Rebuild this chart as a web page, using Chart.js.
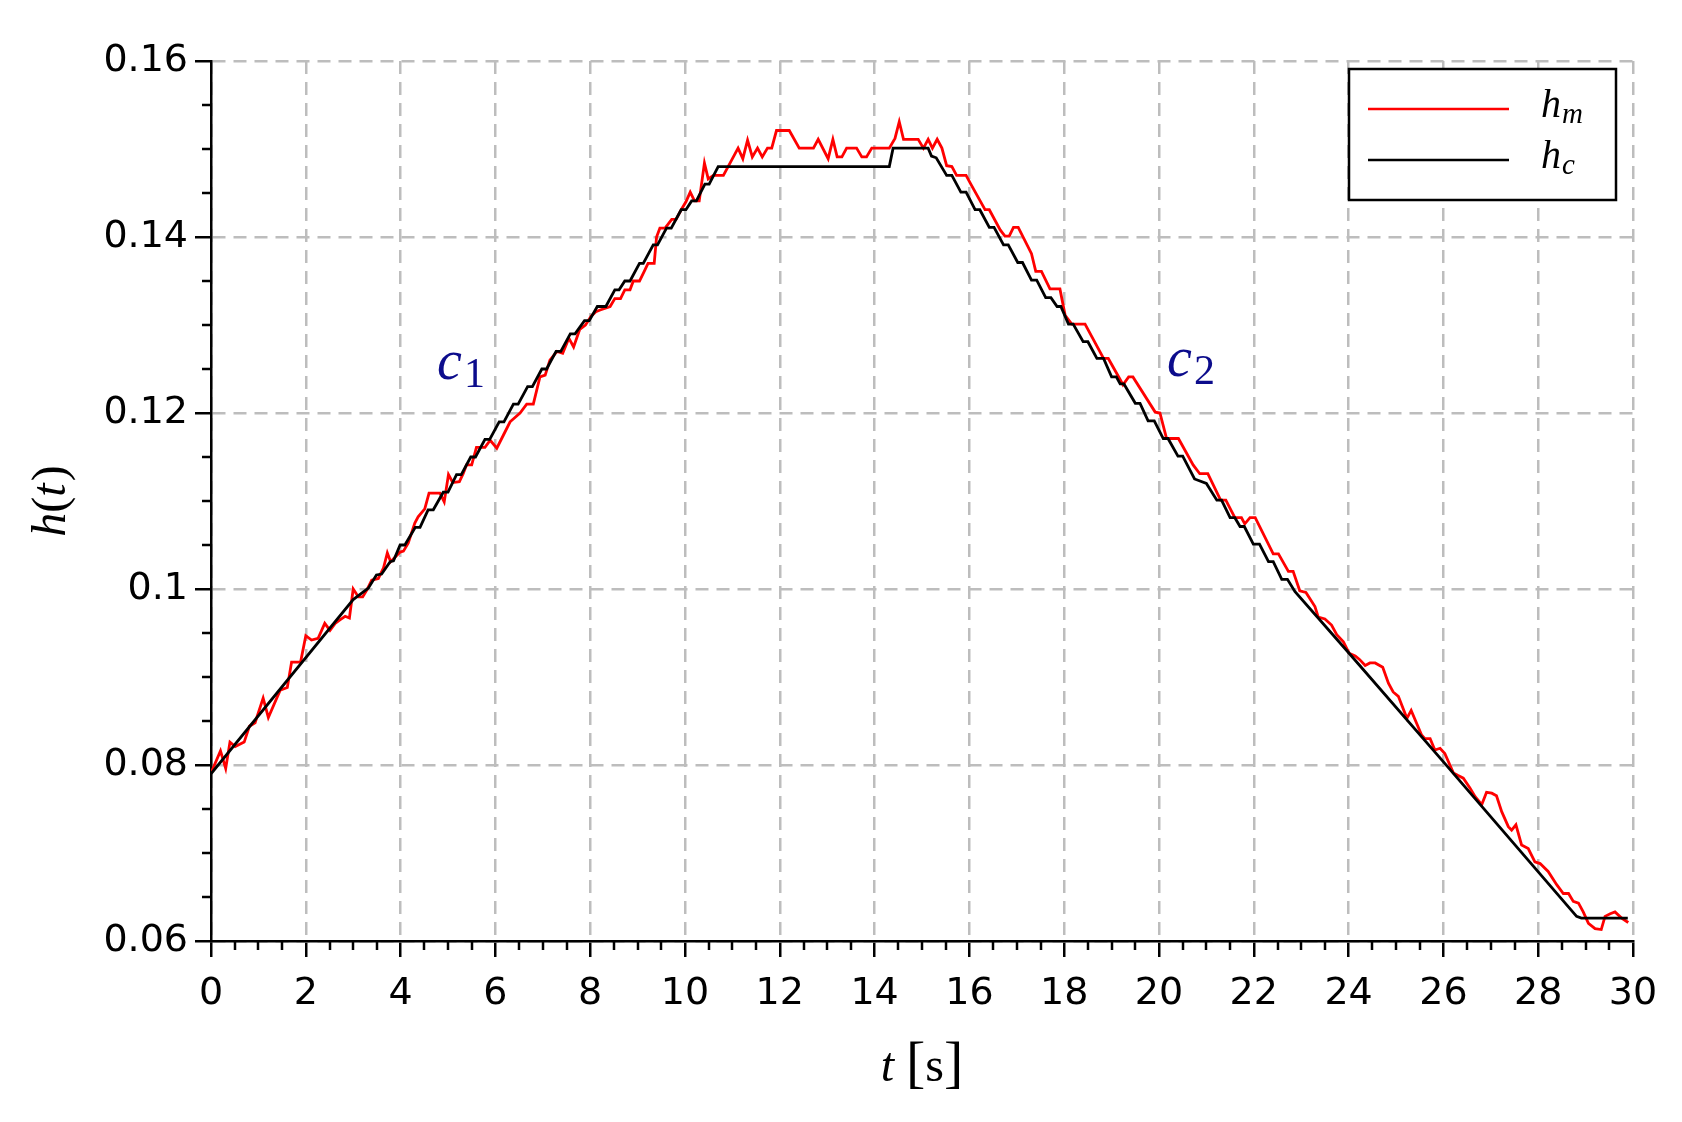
<!DOCTYPE html>
<html>
<head>
<meta charset="utf-8">
<title>h(t)</title>
<script src="https://cdn.jsdelivr.net/npm/chart.js@4.4.0/dist/chart.umd.min.js"></script>
<style>
  html, body { margin: 0; padding: 0; background: #fff; }
  canvas { display: block; }
</style>
</head>
<body>
<canvas id="myChart" width="1682" height="1122"></canvas>
<script>
// axis ticks
const xTicks = [0, 2, 4, 6, 8, 10, 12, 14, 16, 18, 20, 22, 24, 26, 28, 30];
const xTickLabels = ["0", "2", "4", "6", "8", "10", "12", "14", "16", "18", "20", "22", "24", "26", "28", "30"];
const yTicks = [0.06, 0.08, 0.1, 0.12, 0.14, 0.16];
const yTickLabels = ["0.06", "0.08", "0.1", "0.12", "0.14", "0.16"];

// legend names (main symbol + subscript)
const legendMain = ["h", "h"];
const legendSub = ["m", "c"];

// curve labels c1, c2 (placed in data coords)
const curveLabelT = [4.77, 20.17];
const curveLabelH = [0.1239, 0.1242];
const curveLabelSub = ["1", "2"];

// measured height h_m : [t, h]
const measured = [
  [0.00,0.0791],[0.20,0.0816],[0.31,0.0796],[0.40,0.0826],[0.51,0.0821],[0.70,0.0826],[0.81,0.0844],[0.93,0.0848],
  [1.10,0.0876],[1.21,0.0854],[1.46,0.0885],[1.61,0.0888],[1.70,0.0917],[1.89,0.0917],[2.00,0.0947],[2.12,0.0942],
  [2.26,0.0944],[2.40,0.0961],[2.51,0.0953],[2.62,0.0961],[2.72,0.0965],[2.83,0.0969],[2.92,0.0967],[3.00,0.1000],
  [3.11,0.0991],[3.20,0.0991],[3.29,0.0999],[3.39,0.1010],[3.53,0.1012],[3.64,0.1024],[3.72,0.1041],[3.79,0.1031],
  [3.99,0.1042],[4.06,0.1043],[4.16,0.1052],[4.30,0.1075],[4.37,0.1082],[4.51,0.1091],[4.60,0.1109],[4.83,0.1109],
  [4.92,0.1099],[5.01,0.1130],[5.10,0.1121],[5.24,0.1122],[5.32,0.1131],[5.39,0.1141],[5.50,0.1141],[5.60,0.1161],
  [5.78,0.1161],[5.89,0.1169],[6.03,0.1160],[6.17,0.1175],[6.31,0.1190],[6.52,0.1200],[6.66,0.1210],[6.80,0.1210],
  [6.94,0.1241],[7.05,0.1243],[7.15,0.1260],[7.30,0.1270],[7.42,0.1268],[7.55,0.1285],[7.65,0.1275],[7.78,0.1295],
  [7.90,0.1300],[8.02,0.1310],[8.12,0.1315],[8.21,0.1317],[8.42,0.1321],[8.52,0.1330],[8.64,0.1330],[8.73,0.1340],
  [8.84,0.1340],[8.91,0.1350],[9.04,0.1350],[9.14,0.1361],[9.22,0.1370],[9.35,0.1370],[9.40,0.1400],[9.47,0.1410],
  [9.58,0.1410],[9.72,0.1420],[9.81,0.1420],[9.92,0.1431],[10.02,0.1440],[10.11,0.1451],[10.20,0.1441],[10.30,0.1441],
  [10.41,0.1484],[10.49,0.1466],[10.60,0.1470],[10.81,0.1470],[10.91,0.1480],[11.12,0.1501],[11.22,0.1489],[11.32,0.1510],
  [11.42,0.1491],[11.53,0.1501],[11.63,0.1491],[11.74,0.1501],[11.83,0.1501],[11.93,0.1521],[12.20,0.1521],[12.41,0.1501],
  [12.71,0.1501],[12.81,0.1511],[13.02,0.1489],[13.12,0.1511],[13.21,0.1491],[13.31,0.1491],[13.41,0.1501],[13.62,0.1501],
  [13.73,0.1491],[13.83,0.1491],[13.94,0.1501],[14.31,0.1501],[14.43,0.1512],[14.52,0.1531],[14.61,0.1511],[14.92,0.1511],
  [15.03,0.1501],[15.13,0.1511],[15.22,0.1501],[15.32,0.1511],[15.42,0.1501],[15.52,0.1481],[15.63,0.1480],[15.73,0.1470],
  [15.93,0.1470],[16.03,0.1460],[16.33,0.1431],[16.42,0.1431],[16.65,0.1408],[16.75,0.1401],[16.84,0.1401],[16.93,0.1411],
  [17.03,0.1411],[17.31,0.1381],[17.40,0.1361],[17.52,0.1361],[17.70,0.1341],[17.91,0.1341],[18.02,0.1311],[18.16,0.1301],
  [18.44,0.1301],[18.83,0.1262],[18.93,0.1262],[19.18,0.1238],[19.24,0.1232],[19.36,0.1241],[19.45,0.1241],[19.92,0.1201],
  [20.02,0.1200],[20.16,0.1171],[20.41,0.1171],[20.72,0.1141],[20.86,0.1131],[21.03,0.1131],[21.30,0.1101],[21.41,0.1101],
  [21.60,0.1081],[21.74,0.1081],[21.81,0.1074],[21.92,0.1081],[22.03,0.1081],[22.41,0.1040],[22.52,0.1040],[22.73,0.1020],
  [22.83,0.1020],[22.97,0.0998],[23.10,0.0996],[23.29,0.0980],[23.36,0.0968],[23.50,0.0966],[23.64,0.0959],[23.75,0.0948],
  [23.89,0.0940],[24.01,0.0927],[24.14,0.0924],[24.23,0.0920],[24.35,0.0913],[24.45,0.0916],[24.56,0.0916],[24.72,0.0911],
  [24.84,0.0893],[24.94,0.0883],[25.05,0.0878],[25.23,0.0853],[25.32,0.0862],[25.54,0.0834],[25.61,0.0830],[25.72,0.0830],
  [25.82,0.0817],[25.93,0.0819],[26.03,0.0813],[26.21,0.0791],[26.31,0.0788],[26.42,0.0785],[26.56,0.0774],[26.67,0.0764],
  [26.81,0.0755],[26.91,0.0769],[27.02,0.0768],[27.12,0.0765],[27.23,0.0747],[27.37,0.0730],[27.44,0.0726],[27.53,0.0732],
  [27.65,0.0709],[27.79,0.0705],[27.93,0.0690],[28.04,0.0688],[28.21,0.0679],[28.39,0.0664],[28.53,0.0654],[28.64,0.0654],
  [28.74,0.0645],[28.85,0.0643],[28.95,0.0633],[29.06,0.0620],[29.20,0.0614],[29.33,0.0613],[29.41,0.0628],[29.52,0.0631],
  [29.62,0.0633],[29.76,0.0626],[29.90,0.0621]
];

// commanded height h_c : [t, h]
const command = [
  [0.00,0.0790],[3.00,0.0988],[3.32,0.1001],[3.49,0.1016],[3.60,0.1017],[3.78,0.1031],[3.85,0.1032],[3.99,0.1050],
  [4.09,0.1050],[4.31,0.1070],[4.41,0.1070],[4.58,0.1090],[4.69,0.1090],[4.90,0.1110],[5.00,0.1110],[5.18,0.1130],
  [5.28,0.1130],[5.48,0.1150],[5.58,0.1150],[5.78,0.1170],[5.88,0.1170],[6.08,0.1190],[6.18,0.1190],[6.38,0.1210],
  [6.48,0.1210],[6.68,0.1230],[6.78,0.1230],[6.98,0.1250],[7.08,0.1250],[7.28,0.1270],[7.38,0.1270],[7.58,0.1290],
  [7.68,0.1290],[7.88,0.1305],[7.98,0.1305],[8.15,0.1321],[8.33,0.1321],[8.52,0.1340],[8.61,0.1340],[8.73,0.1350],
  [8.84,0.1350],[9.04,0.1370],[9.12,0.1370],[9.33,0.1391],[9.42,0.1391],[9.61,0.1410],[9.71,0.1410],[9.92,0.1431],
  [10.02,0.1431],[10.14,0.1441],[10.24,0.1441],[10.42,0.1460],[10.51,0.1460],[10.70,0.1480],[14.31,0.1480],[14.39,0.1501],
  [15.13,0.1501],[15.20,0.1492],[15.30,0.1490],[15.52,0.1470],[15.63,0.1470],[15.82,0.1451],[15.93,0.1451],[16.12,0.1431],
  [16.22,0.1431],[16.42,0.1411],[16.52,0.1411],[16.72,0.1391],[16.82,0.1391],[17.02,0.1371],[17.12,0.1371],[17.31,0.1351],
  [17.42,0.1351],[17.61,0.1331],[17.72,0.1331],[17.85,0.1321],[17.93,0.1321],[18.09,0.1301],[18.19,0.1301],[18.40,0.1281],
  [18.50,0.1281],[18.69,0.1262],[18.83,0.1262],[19.00,0.1241],[19.10,0.1241],[19.18,0.1233],[19.26,0.1233],[19.50,0.1211],
  [19.60,0.1211],[19.77,0.1191],[19.90,0.1191],[20.09,0.1171],[20.19,0.1171],[20.40,0.1151],[20.50,0.1151],[20.75,0.1125],
  [21.00,0.1120],[21.22,0.1101],[21.32,0.1101],[21.50,0.1081],[21.60,0.1081],[21.71,0.1071],[21.80,0.1071],[21.99,0.1051],
  [22.12,0.1051],[22.31,0.1031],[22.41,0.1031],[22.59,0.1011],[22.71,0.1011],[22.87,0.0997],[24.01,0.0927],[26.01,0.0803],
  [28.81,0.0628],[28.91,0.0626],[29.89,0.0626]
];

const serif = '"Liberation Serif", "DejaVu Serif", serif';
const sans = '"DejaVu Sans", sans-serif';

// minor ticks: 3 between each pair of major ticks
function minorsOf(ticks) {
  var out = [];
  for (var i = 0; i < ticks.length - 1; i++) {
    var step = (ticks[i + 1] - ticks[i]) / 4;
    for (var k = 1; k < 4; k++) out.push(ticks[i] + k * step);
  }
  return out;
}
const xMinor = minorsOf(xTicks);
const yMinor = minorsOf(yTicks);

// draw text pieces with different fonts one after another
function drawParts(c, parts, x, y, align) {
  var total = 0;
  parts.forEach(function (p) { c.font = p[1]; total += c.measureText(p[0]).width + (p[3] || 0); });
  var cx = align === "center" ? x - total / 2 : x;
  parts.forEach(function (p) {
    c.font = p[1];
    c.fillText(p[0], cx, y + (p[2] || 0));
    cx += c.measureText(p[0]).width + (p[3] || 0);
  });
}

const decorations = {
  id: "decorations",
  afterDraw(chart) {
    const c = chart.ctx;
    const area = chart.chartArea;
    const xs = chart.scales.x;
    const ys = chart.scales.y;
    c.save();

    // minor ticks
    c.strokeStyle = "#000";
    c.lineWidth = 2.5;
    c.beginPath();
    xMinor.forEach(function (v) {
      var px = Math.round(xs.getPixelForValue(v));
      c.moveTo(px, area.bottom);
      c.lineTo(px, area.bottom + 9);
    });
    yMinor.forEach(function (v) {
      var py = Math.round(ys.getPixelForValue(v));
      c.moveTo(area.left, py);
      c.lineTo(area.left - 9, py);
    });
    c.stroke();

    c.textAlign = "left";
    c.textBaseline = "alphabetic";
    c.fillStyle = "#000";

    // y axis title h(t)
    c.save();
    c.translate(area.left - 146, (area.top + area.bottom) / 2);
    c.rotate(-Math.PI / 2);
    drawParts(c, [
      ["h", "italic 48px " + serif],
      ["(", "48px " + serif],
      ["t", "italic 48px " + serif, 0, 2],
      [")", "48px " + serif]
    ], 0, 0, "center");
    c.restore();

    // x axis title t [s]
    drawParts(c, [
      ["t", "italic 48px " + serif, 0, 12],
      ["[", "58px " + serif],
      ["s", "48px " + serif],
      ["]", "58px " + serif]
    ], (area.left + area.right) / 2, area.bottom + 140, "center");

    // curve labels c1, c2
    c.fillStyle = "#0c0c8c";
    curveLabelT.forEach(function (t, i) {
      var px = xs.getPixelForValue(t);
      var py = ys.getPixelForValue(curveLabelH[i]);
      drawParts(c, [
        ["c", "italic 56px " + serif, 0, 2],
        [curveLabelSub[i], "42px " + serif, 8]
      ], px, py, "left");
    });

    // legend box
    var bx = area.right - 284, by = area.top + 8, bw = 267, bh = 131;
    c.fillStyle = "#fff";
    c.fillRect(bx, by, bw, bh);
    c.strokeStyle = "#000";
    c.lineWidth = 2.5;
    c.strokeRect(bx, by, bw, bh);
    var colors = ["#ff0000", "#000000"];
    var rows = [40, 91];
    var textRows = [48, 99];
    c.lineWidth = 2.5;
    legendMain.forEach(function (m, i) {
      c.strokeStyle = colors[i];
      c.beginPath();
      c.moveTo(bx + 19, by + rows[i]);
      c.lineTo(bx + 160, by + rows[i]);
      c.stroke();
      c.fillStyle = "#000";
      drawParts(c, [
        [m, "italic 40px " + serif, 0, 1],
        [legendSub[i], "italic 29px " + serif, 6]
      ], bx + 192, by + textRows[i], "left");
    });

    c.restore();
  }
};

const canvas = document.getElementById("myChart");
const ctx = canvas.getContext("2d");

new Chart(ctx, {
  type: "line",
  data: {
    datasets: [
      {
        label: "h_m",
        data: measured.map(function (p) { return { x: p[0], y: p[1] }; }),
        borderColor: "#ff0000",
        borderWidth: 2.8,
        pointRadius: 0,
        tension: 0,
        fill: false,
        order: 1
      },
      {
        label: "h_c",
        data: command.map(function (p) { return { x: p[0], y: p[1] }; }),
        borderColor: "#000000",
        borderWidth: 2.8,
        pointRadius: 0,
        tension: 0,
        fill: false,
        order: 0
      }
    ]
  },
  options: {
    responsive: false,
    animation: false,
    devicePixelRatio: 1,
    layout: { padding: { left: 0, top: 61, right: 49, bottom: 0 } },
    plugins: {
      legend: { display: false },
      tooltip: { enabled: false }
    },
    scales: {
      x: {
        type: "linear",
        min: 0,
        max: 30,
        afterBuildTicks: function (s) { s.ticks = xTicks.map(function (v) { return { value: v }; }); },
        afterFit: function (s) { s.height = 181; },
        ticks: {
          callback: function (v, i) { return xTickLabels[i]; },
          color: "#000",
          font: { family: sans, size: 38 },
          padding: 14,
          maxRotation: 0,
          autoSkip: false
        },
        grid: { color: "#bdbdbd", lineWidth: 2.5, tickLength: 16, tickColor: "#000", tickWidth: 2.5, tickBorderDash: [] },
        border: { display: true, color: "#000", width: 2.5, dash: [13, 8] }
      },
      y: {
        type: "linear",
        min: 0.06,
        max: 0.16,
        afterBuildTicks: function (s) { s.ticks = yTicks.map(function (v) { return { value: v }; }); },
        afterFit: function (s) { s.width = 211; },
        ticks: {
          callback: function (v, i) { return yTickLabels[i]; },
          color: "#000",
          font: { family: sans, size: 38 },
          padding: 7,
          autoSkip: false
        },
        grid: { color: "#bdbdbd", lineWidth: 2.5, tickLength: 16, tickColor: "#000", tickWidth: 2.5, tickBorderDash: [] },
        border: { display: true, color: "#000", width: 2.5, dash: [13, 8] }
      }
    }
  },
  plugins: [decorations]
});
</script>
</body>
</html>
